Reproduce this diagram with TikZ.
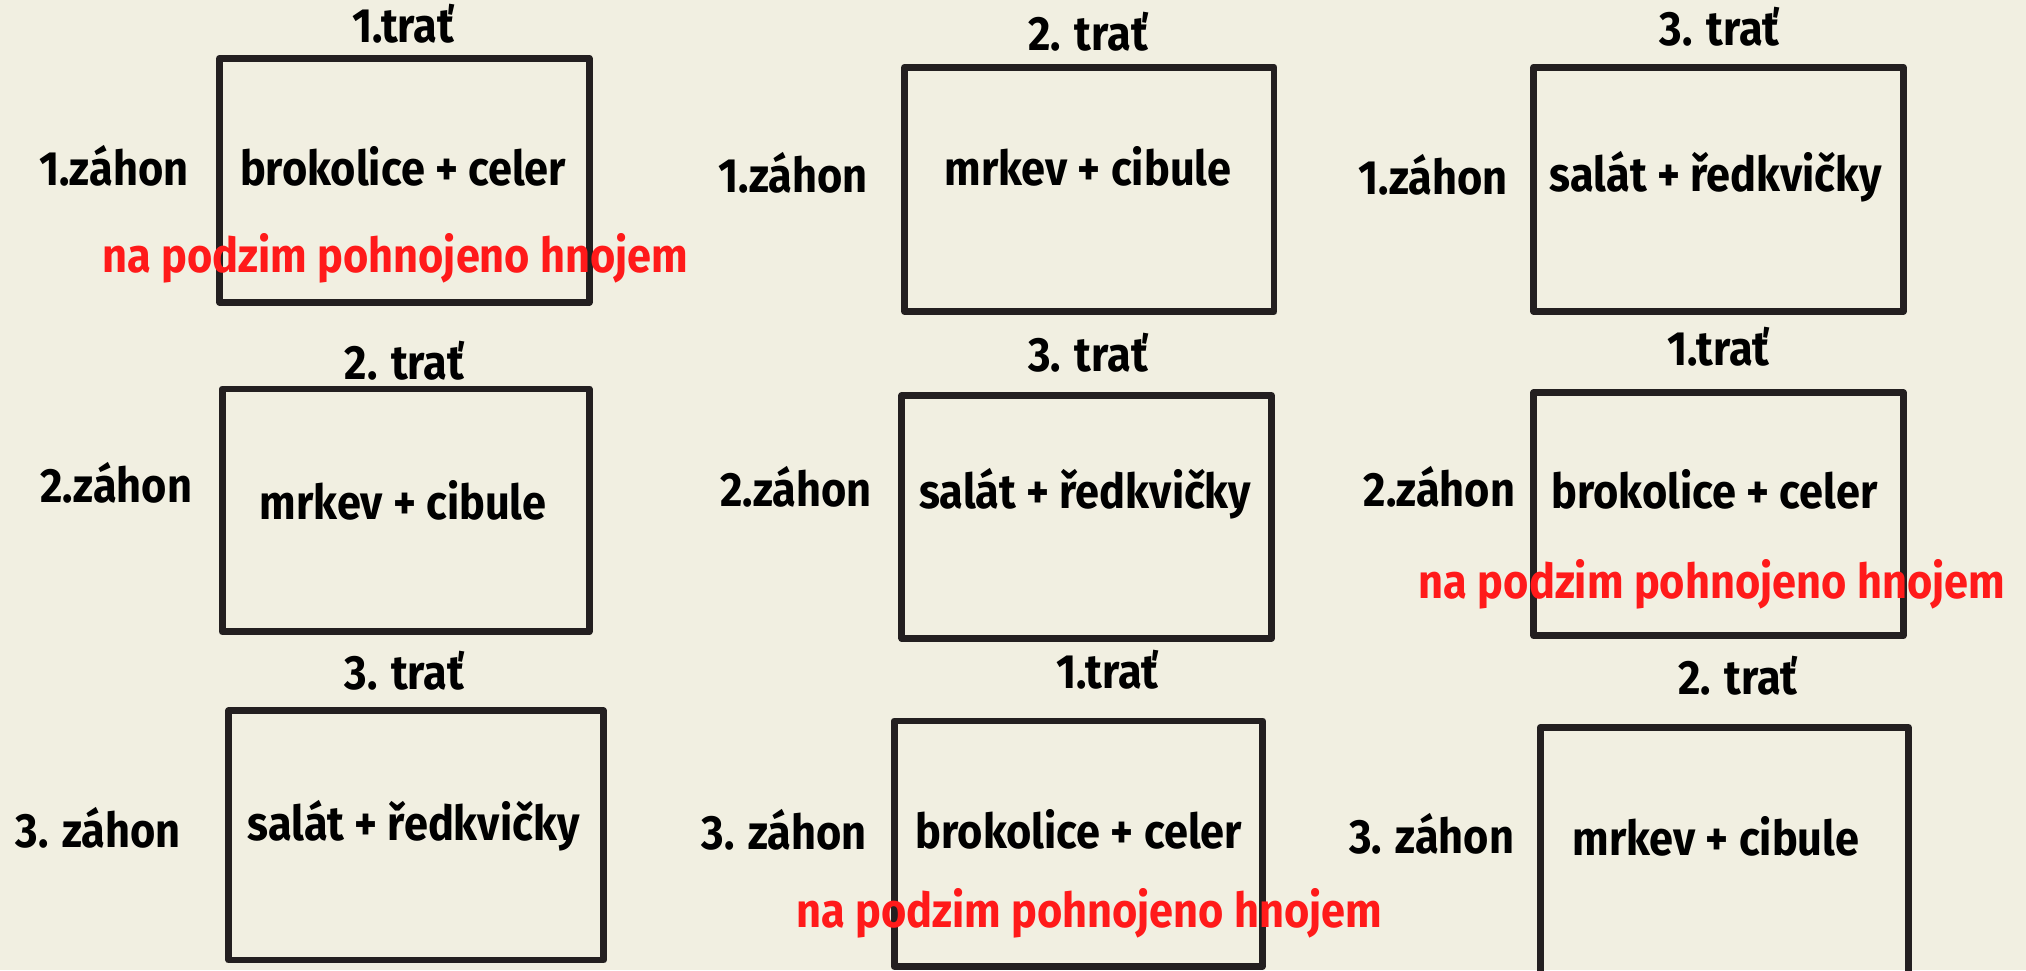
\documentclass[tikz,border=0pt]{standalone}
\usepackage{fontspec}
\setmainfont{Fira Sans}[FakeStretch=0.9]
\definecolor{bg}{HTML}{F1EFE1}
\definecolor{ink}{HTML}{231F20}
\definecolor{redt}{HTML}{FF1A1A}
\begin{document}
\begin{tikzpicture}[x=0.05cm,y=-0.05cm,
  lbl/.style={font=\fontsize{53}{56}\selectfont\bfseries, text=black, inner sep=0pt, text height=0.72em, text depth=0.2em, yshift=-0.45cm},
  crop/.style={lbl},
  note/.style={lbl, text=redt},
  bed/.style={draw=ink, line width=7.5pt, line join=round}]
\useasboundingbox (0,0) rectangle (1568,751);
\clip (0,0) rectangle (1568,751);
\fill[bg] (0,0) rectangle (1568,751);
% row 1
\draw[bed] (170,45) rectangle (456,234);
\node[lbl] (t11) at (312,22) {1.trať};
\node[lbl] (z11) at (88,133) {1.záhon};
\node[crop] (c11) at (312,133) {brokolice + celer};
\node[note] (r11) at (306,200) {na podzim pohnojeno hnojem};
\draw[bed] (700,52) rectangle (986,241);
\node[lbl] (t12) at (842,28) {2. trať};
\node[lbl] (z12) at (614,138) {1.záhon};
\node[crop] (c12) at (842,133) {mrkev + cibule};
\draw[bed] (1187,52) rectangle (1473,241);
\node[lbl] (t13) at (1331,24) {3. trať};
\node[lbl] (z13) at (1109,140) {1.záhon};
\node[crop] (c13) at (1328,137) {salát + ředkvičky};
% row 2
\draw[bed] (172,301) rectangle (456,489);
\node[lbl] (t21) at (313,283) {2. trať};
\node[lbl] (z21) at (90,378) {2.záhon};
\node[crop] (c21) at (312,391) {mrkev + cibule};
\draw[bed] (698,306) rectangle (984,494);
\node[lbl] (t22) at (842,277) {3. trať};
\node[lbl] (z22) at (616,381) {2.záhon};
\node[crop] (c22) at (840,383) {salát + ředkvičky};
\draw[bed] (1187,304) rectangle (1473,492);
\node[lbl] (t23) at (1330,272) {1.trať};
\node[lbl] (z23) at (1114,381) {2.záhon};
\node[crop] (c23) at (1327,383) {brokolice + celer};
\node[note] (r23) at (1325,452) {na podzim pohnojeno hnojem};
% row 3
\draw[bed] (177,550) rectangle (467,743);
\node[lbl] (t31) at (313,523) {3. trať};
\node[lbl] (z31) at (76,645) {3. záhon};
\node[crop] (c31) at (320,640) {salát + ředkvičky};
\draw[bed] (692,558) rectangle (977,748);
\node[lbl] (t32) at (857,522) {1.trať};
\node[lbl] (z32) at (607,647) {3. záhon};
\node[crop] (c32) at (835,646) {brokolice + celer};
\node[note] (r32) at (843,707) {na podzim pohnojeno hnojem};
\draw[bed] (1192,563) rectangle (1477,770);
\node[lbl] (t33) at (1345,527) {2. trať};
\node[lbl] (z33) at (1108,650) {3. záhon};
\node[crop] (c33) at (1328,651) {mrkev + cibule};
\end{tikzpicture}
\end{document}
